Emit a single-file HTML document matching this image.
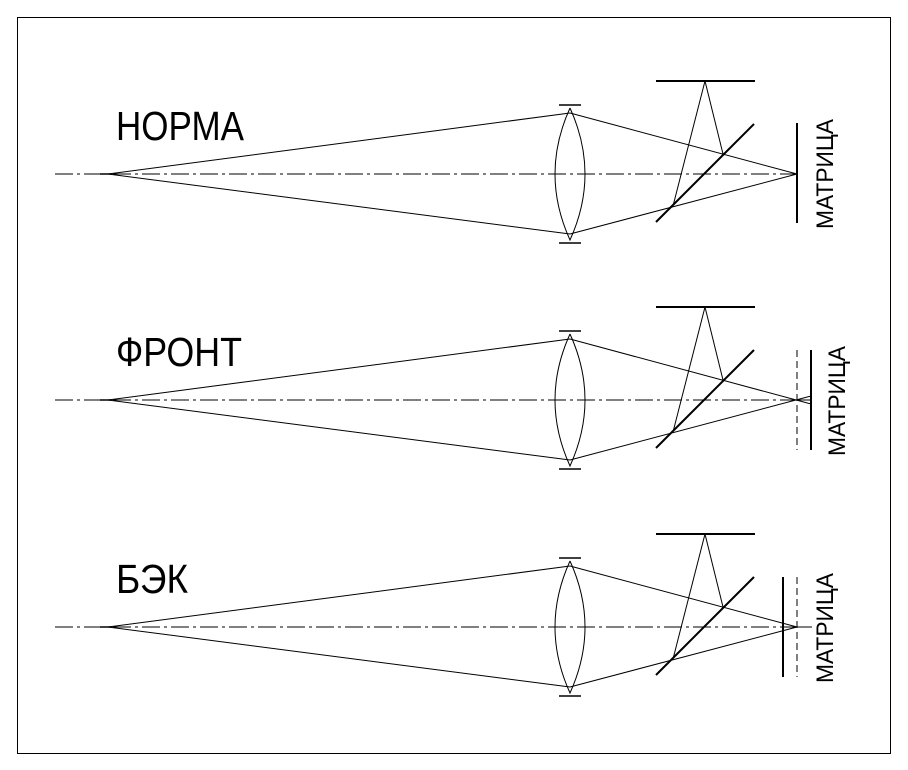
<!DOCTYPE html>
<html><head><meta charset="utf-8"><style>
html,body{margin:0;padding:0;background:#fff;}
svg{display:block}
text{font-family:"Liberation Sans",sans-serif;fill:#000}
</style></head><body>
<svg width="908" height="770" viewBox="0 0 908 770" xmlns="http://www.w3.org/2000/svg">
<rect x="17.5" y="17.5" width="873" height="736" fill="none" stroke="#000" stroke-width="1"/>
<defs>
<g id="base" stroke="#000" fill="none">
  <line x1="55" y1="0" x2="797" y2="0" stroke-width="1" stroke-dasharray="18,4,3,4"/>
  <line x1="100" y1="0" x2="112" y2="0" stroke-width="1.5"/>
  <path d="M570,-66 Q540,0 570,66 Q600,0 570,-66" stroke-width="1"/>
  <line x1="559" y1="-69" x2="581" y2="-69" stroke-width="1.5"/>
  <line x1="559" y1="69" x2="581" y2="69" stroke-width="1.5"/>
  <line x1="108" y1="0" x2="570" y2="-61" stroke-width="1"/>
  <line x1="108" y1="0" x2="570" y2="60" stroke-width="1"/>
  <line x1="656" y1="-93" x2="755" y2="-93" stroke-width="2"/>
  <line x1="656" y1="48" x2="754" y2="-50" stroke-width="2"/>
  <line x1="673" y1="32" x2="705" y2="-93" stroke-width="1"/>
  <line x1="705" y1="-93" x2="723" y2="-20" stroke-width="1"/>
</g>
</defs>

<g transform="translate(0,174)" stroke="#000" fill="none">
  <use href="#base"/>
  <line x1="570" y1="-61" x2="797" y2="0"/>
  <line x1="570" y1="60" x2="797" y2="0"/>
  <line x1="797" y1="-51" x2="797" y2="49" stroke-width="2"/>
</g>
<g transform="translate(0,400)" stroke="#000" fill="none">
  <use href="#base"/>
  <line x1="570" y1="-61" x2="811" y2="4"/>
  <line x1="570" y1="60" x2="811" y2="-4"/>
  <line x1="797" y1="0" x2="811" y2="0"/>
  <line x1="797" y1="-50" x2="797" y2="50" stroke-dasharray="7,4"/>
  <line x1="811" y1="-50" x2="811" y2="50" stroke-width="2"/>
</g>
<g transform="translate(0,627)" stroke="#000" fill="none">
  <use href="#base"/>
  <line x1="570" y1="-61" x2="797" y2="0"/>
  <line x1="570" y1="60" x2="797" y2="0"/>
  <line x1="797" y1="0" x2="812" y2="0"/>
  <line x1="783" y1="-50" x2="783" y2="50" stroke-width="2"/>
  <line x1="797" y1="-50" x2="797" y2="50" stroke-dasharray="7,4"/>
</g>

<text x="116" y="140" font-size="41" textLength="128" lengthAdjust="spacingAndGlyphs">НОРМА</text>
<text x="116" y="366" font-size="41" textLength="126" lengthAdjust="spacingAndGlyphs">ФРОНТ</text>
<text x="116" y="593" font-size="41" textLength="72" lengthAdjust="spacingAndGlyphs">БЭК</text>

<text transform="translate(833,229) rotate(-90)" font-size="24" textLength="110" lengthAdjust="spacingAndGlyphs">МАТРИЦА</text>
<text transform="translate(845,456) rotate(-90)" font-size="24" textLength="110" lengthAdjust="spacingAndGlyphs">МАТРИЦА</text>
<text transform="translate(833,683) rotate(-90)" font-size="24" textLength="110" lengthAdjust="spacingAndGlyphs">МАТРИЦА</text>
</svg>
</body></html>
